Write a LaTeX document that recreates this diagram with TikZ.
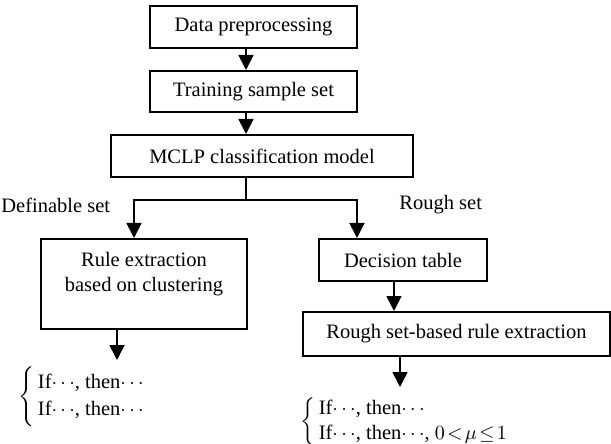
\documentclass[tikz,border=0pt]{standalone}
\usepackage{fontspec}
\setmainfont{Liberation Serif}
\usetikzlibrary{arrows.meta,positioning}

\begin{document}
\begin{tikzpicture}[x=0.5pt,y=-0.5pt,
  font=\fontsize{10.25}{12.5}\selectfont,
  box/.style={draw, line width=1pt, inner sep=0pt},
  arr/.style={line width=0.8pt, -{Triangle[length=7.5pt,width=7.5pt]}}]
  \useasboundingbox (0,0) rectangle (611,444);

  % main chain
  \node[box, minimum width=103.5pt, minimum height=21pt] (pre) at (253.5,27) {Data preprocessing};
  \node[box, minimum width=103.5pt, minimum height=20.5pt] (train) at (253.5,91.5) {Training sample set};
  \node[box, minimum width=151pt, minimum height=21pt] (mclp) at (262,156) {MCLP classification model};

  % two branches
  \node[box, minimum width=103pt, minimum height=45pt] (rule) at (144,284) {};
  \node[align=center] (ruletxt) at (144,274) {Rule extraction\\based on clustering};
  \node[box, minimum width=84pt, minimum height=21pt] (dec) at (403,260) {Decision table};
  \node[box, minimum width=153.5pt, minimum height=22pt] (rough) at (456.5,334) {Rough set-based rule extraction};

  \node[anchor=west, inner sep=0pt] (defl) at (1,205) {Definable set};
  \node[anchor=west, inner sep=0pt] (roughl) at (399,205) {Rough set};

  % rules
  \node[anchor=west, inner sep=0pt] (lres) at (18,397)
    {$\left\{\renewcommand{\arraystretch}{1.08}\begin{tabular}{@{\,}l@{}}If$\cdots$, then$\cdots$\\If$\cdots$, then$\cdots$\end{tabular}\right.$};
  \node[anchor=west, inner sep=0pt] (rres) at (300,422)
    {$\left\{\begin{tabular}{@{\,}l@{}}If$\cdots$, then$\cdots$\\If$\cdots$, then$\cdots$,\ $0\!<\!\mu\!\le\!1$\end{tabular}\right.$};

  % arrows
  \coordinate (cx) at (246,0);
  \coordinate (split) at (246,200);
  \coordinate (lx) at (134,0);
  \coordinate (rx) at (357,0);
  \coordinate (dx) at (394,0);
  \coordinate (lend) at (117,360);
  \coordinate (rend) at (400,387);
  \draw[arr] (pre.south -| cx) -- (train.north -| cx);
  \draw[arr] (train.south -| cx) -- (mclp.north -| cx);
  \draw[line width=0.8pt] (mclp.south -| cx) -- (split);
  \draw[arr] (split) -| (rule.north -| lx);
  \draw[arr] (split) -| (dec.north -| rx);
  \draw[arr] (dec.south -| dx) -- (rough.north -| dx);
  \draw[arr] (rule.south -| lend) -- (lend);
  \draw[arr] (rough.south -| rend) -- (rend);
\end{tikzpicture}
\end{document}
